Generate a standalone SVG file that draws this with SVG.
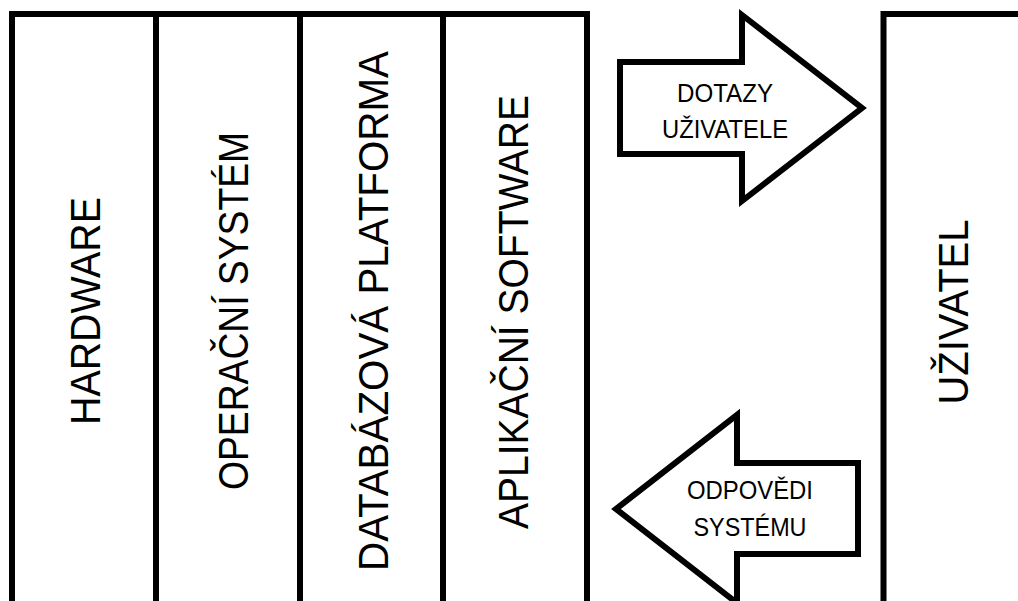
<svg xmlns="http://www.w3.org/2000/svg" width="1018" height="601" viewBox="0 0 1018 601">
  <style>
    .box { fill: #ffffff; stroke: #000000; stroke-width: 6; }
    .line { fill: none; stroke: #000000; stroke-width: 6; }
    .arrow { fill: #ffffff; stroke: #000000; stroke-width: 6; stroke-linejoin: miter; }
    .big { font-family: "Liberation Sans", Arial, sans-serif; font-size: 42px; fill: #000000; text-anchor: middle; }
    .small { font-family: "Liberation Sans", Arial, sans-serif; font-size: 25px; fill: #000000; text-anchor: middle; }
  </style>
  <rect x="0" y="0" width="1018" height="601" fill="#ffffff"/>

  <g id="hardware">
    <rect class="box" x="12" y="14" width="144" height="600"/>
    <text class="big" transform="translate(100,311) rotate(-90)" x="0" y="0" textLength="228" lengthAdjust="spacingAndGlyphs">HARDWARE</text>
  </g>

  <g id="operacni-system">
    <rect class="box" x="156" y="14" width="144" height="600"/>
    <text class="big" transform="translate(248,311) rotate(-90)" x="0" y="0" textLength="358" lengthAdjust="spacingAndGlyphs">OPERAČNÍ SYSTÉM</text>
  </g>

  <g id="databazova-platforma">
    <rect class="box" x="300" y="14" width="143" height="600"/>
    <text class="big" transform="translate(388,311) rotate(-90)" x="0" y="0" textLength="520" lengthAdjust="spacingAndGlyphs">DATABÁZOVÁ PLATFORMA</text>
  </g>

  <g id="aplikacni-software">
    <rect class="box" x="443" y="14" width="144" height="600"/>
    <text class="big" transform="translate(528,312) rotate(-90)" x="0" y="0" textLength="434" lengthAdjust="spacingAndGlyphs">APLIKAČNÍ SOFTWARE</text>
  </g>

  <g id="uzivatel">
    <path class="line" d="M883.5,610 V14 H1025"/>
    <text class="big" transform="translate(968,312) rotate(-90)" x="0" y="0" textLength="185" lengthAdjust="spacingAndGlyphs">UŽIVATEL</text>
  </g>

  <g id="connectors">
    <g id="dotazy-uzivatele">
      <polygon class="arrow" points="620,62 742,62 742,15 862,108 742,201 742,154 620,154"/>
      <text class="small" x="725" y="102" textLength="96" lengthAdjust="spacingAndGlyphs">DOTAZY</text>
      <text class="small" x="725" y="138" textLength="126" lengthAdjust="spacingAndGlyphs">UŽIVATELE</text>
    </g>
    <g id="odpovedi-systemu">
      <polygon class="arrow" points="858,463 737,463 737,415 616,509 737,603 737,554 858,554"/>
      <text class="small" x="750" y="499" textLength="126" lengthAdjust="spacingAndGlyphs">ODPOVĚDI</text>
      <text class="small" x="750" y="536" textLength="113" lengthAdjust="spacingAndGlyphs">SYSTÉMU</text>
    </g>
  </g>
</svg>
